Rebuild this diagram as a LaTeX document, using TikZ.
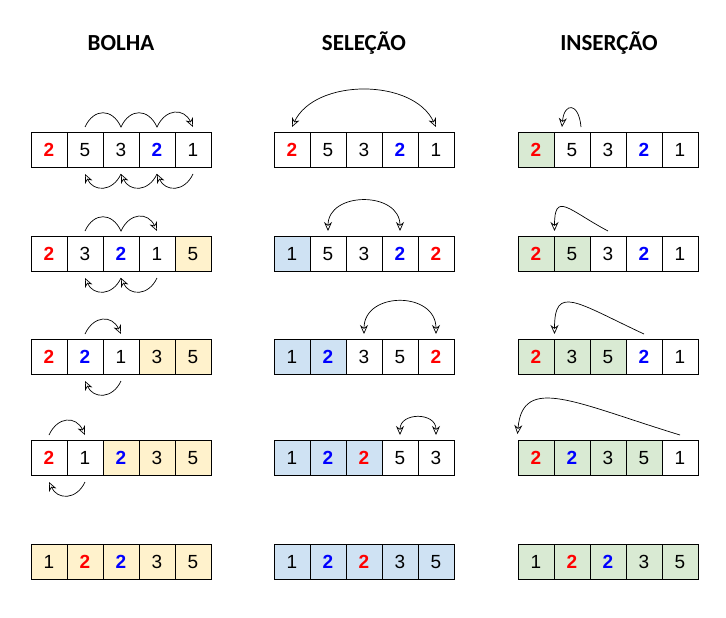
\documentclass[tikz,border=0pt]{standalone}
\usepackage{fontspec}
\setmainfont{Liberation Sans}
\newfontfamily\fonttitulo{Carlito}
\usetikzlibrary{arrows.meta,backgrounds}
\definecolor{laranja}{HTML}{FFF2CC}
\definecolor{azulclaro}{HTML}{CFE2F3}
\definecolor{verdeclaro}{HTML}{D9EAD3}
\newcommand{\vrm}[1]{\textcolor{red}{\textbf{#1}}}
\newcommand{\azl}[1]{\textcolor{blue}{\textbf{#1}}}

\begin{document}
\begin{tikzpicture}[x=1pt, y=1pt,
  cel/.style={draw, line width=1pt, minimum width=36pt, minimum height=35pt, inner sep=0pt, font=\fontsize{19}{20}\selectfont},
  titulo/.style={anchor=base, font=\fonttitulo\bfseries\fontsize{23}{25}\selectfont},
  seta/.style={line width=0.7pt, -{Stealth[open,length=9pt,width=8pt]}},
  troca/.style={line width=0.7pt, {Stealth[open,length=9pt,width=8pt]}-{Stealth[open,length=9pt,width=8pt]}},
  onda/.style={out=65, in=115, distance=21pt},
  volta/.style={out=-115, in=-65, distance=20pt}]
\useasboundingbox (0,0) rectangle (726,-618);

\node[titulo] (tbolha) at (121,-51) {BOLHA};
\node[titulo] (tselecao) at (364,-51) {SELEÇÃO};
\node[titulo] (tinsercao) at (609,-51) {INSERÇÃO};

% bolha
\foreach \val [count=\k] in {\vrm{2},5,3,\azl{2},1} \node[cel] (b1\k) at (13+36*\k,-150) {\val};
\foreach \val [count=\k] in {\vrm{2},3,\azl{2},1,5} \node[cel] (b2\k) at (13+36*\k,-254) {\val};
\foreach \val [count=\k] in {\vrm{2},\azl{2},1,3,5} \node[cel] (b3\k) at (13+36*\k,-357) {\val};
\foreach \val [count=\k] in {\vrm{2},1,\azl{2},3,5} \node[cel] (b4\k) at (13+36*\k,-458) {\val};
\foreach \val [count=\k] in {1,\vrm{2},\azl{2},3,5} \node[cel] (b5\k) at (13+36*\k,-562) {\val};

% selecao
\foreach \val [count=\k] in {\vrm{2},5,3,\azl{2},1} \node[cel] (s1\k) at (256+36*\k,-150) {\val};
\foreach \val [count=\k] in {1,5,3,\azl{2},\vrm{2}} \node[cel] (s2\k) at (256+36*\k,-254) {\val};
\foreach \val [count=\k] in {1,\azl{2},3,5,\vrm{2}} \node[cel] (s3\k) at (256+36*\k,-357) {\val};
\foreach \val [count=\k] in {1,\azl{2},\vrm{2},5,3} \node[cel] (s4\k) at (256+36*\k,-458) {\val};
\foreach \val [count=\k] in {1,\azl{2},\vrm{2},3,5} \node[cel] (s5\k) at (256+36*\k,-562) {\val};

% insercao
\foreach \val [count=\k] in {\vrm{2},5,3,\azl{2},1} \node[cel] (i1\k) at (500+36*\k,-150) {\val};
\foreach \val [count=\k] in {\vrm{2},5,3,\azl{2},1} \node[cel] (i2\k) at (500+36*\k,-254) {\val};
\foreach \val [count=\k] in {\vrm{2},3,5,\azl{2},1} \node[cel] (i3\k) at (500+36*\k,-357) {\val};
\foreach \val [count=\k] in {\vrm{2},\azl{2},3,5,1} \node[cel] (i4\k) at (500+36*\k,-458) {\val};
\foreach \val [count=\k] in {1,\vrm{2},\azl{2},3,5} \node[cel] (i5\k) at (500+36*\k,-562) {\val};

\begin{scope}[on background layer]
\fill[laranja] (b25.north west) rectangle (b25.south east);
\fill[laranja] (b34.north west) rectangle (b35.south east);
\fill[laranja] (b43.north west) rectangle (b45.south east);
\fill[laranja] (b51.north west) rectangle (b55.south east);
\fill[azulclaro] (s21.north west) rectangle (s21.south east);
\fill[azulclaro] (s31.north west) rectangle (s32.south east);
\fill[azulclaro] (s41.north west) rectangle (s43.south east);
\fill[azulclaro] (s51.north west) rectangle (s55.south east);
\fill[verdeclaro] (i11.north west) rectangle (i11.south east);
\fill[verdeclaro] (i21.north west) rectangle (i22.south east);
\fill[verdeclaro] (i31.north west) rectangle (i33.south east);
\fill[verdeclaro] (i41.north west) rectangle (i44.south east);
\fill[verdeclaro] (i51.north west) rectangle (i55.south east);
\end{scope}

% bolha: trocas
\draw[seta] ([yshift=5pt]b12.north) to[onda] ([yshift=5pt]b13.north) to[onda] ([yshift=5pt]b14.north) to[onda] ([yshift=5pt]b15.north);
\draw[seta] ([yshift=-6pt]b13.south) to[volta] ([yshift=-6pt]b12.south);
\draw[seta] ([yshift=-6pt]b14.south) to[volta] ([yshift=-6pt]b13.south);
\draw[seta] ([yshift=-6pt]b15.south) to[volta] ([yshift=-6pt]b14.south);
\draw[seta] ([yshift=5pt]b22.north) to[onda] ([yshift=5pt]b23.north) to[onda] ([yshift=5pt]b24.north);
\draw[seta] ([yshift=-6pt]b23.south) to[volta] ([yshift=-6pt]b22.south);
\draw[seta] ([yshift=-6pt]b24.south) to[volta] ([yshift=-6pt]b23.south);
\draw[seta] ([yshift=5pt]b32.north) to[onda] ([yshift=5pt]b33.north);
\draw[seta] ([yshift=-6pt]b33.south) to[volta] ([yshift=-6pt]b32.south);
\draw[seta] ([yshift=5pt]b41.north) to[onda] ([yshift=5pt]b42.north);
\draw[seta] ([yshift=-6pt]b42.south) to[volta] ([yshift=-6pt]b41.south);

% selecao: trocas
\draw[troca] ([yshift=5pt]s11.north) to[out=65, in=115, distance=54pt] ([yshift=5pt]s15.north);
\draw[troca] ([yshift=5pt]s22.north) to[out=90, in=90, distance=40pt] ([yshift=5pt]s24.north);
\draw[troca] ([yshift=5pt]s33.north) to[out=90, in=90, distance=43pt] ([yshift=5pt]s35.north);
\draw[troca] ([yshift=5pt]s44.north) to[out=90, in=90, distance=23pt] ([yshift=5pt]s45.north);

% insercao: deslocamentos
\draw[seta] ([xshift=9pt,yshift=5pt]i12.north) to[out=95, in=85, distance=25pt] ([xshift=-10pt,yshift=5pt]i12.north);
\draw[seta] ([yshift=5pt]i23.north) to[out=152, in=90, out distance=45pt, in distance=40pt] ([yshift=5pt]i21.north east);
\draw[seta] ([yshift=5pt]i34.north) to[out=155, in=90, out distance=75pt, in distance=50pt] ([yshift=5pt]i31.north east);
\draw[seta] ([yshift=5pt]i45.north) to[out=163, in=85, out distance=110pt, in distance=60pt] ([yshift=6pt]i41.north west);
\end{tikzpicture}
\end{document}
